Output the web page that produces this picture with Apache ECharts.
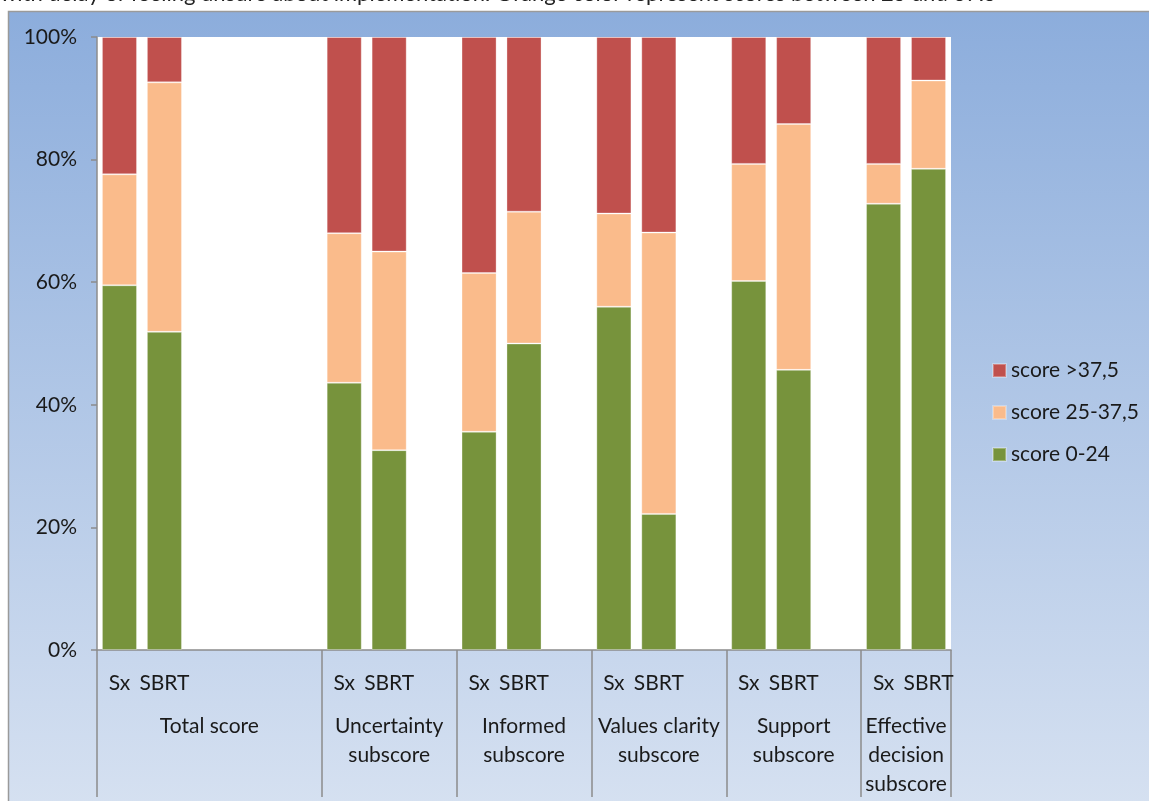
<!DOCTYPE html>
<html>
<head>
<meta charset="utf-8">
<script src="https://cdn.jsdelivr.net/npm/echarts@6/dist/echarts.min.js"></script>
<style>
  html, body { margin: 0; padding: 0; background: #ffffff; }
  #chart { width: 1149px; height: 801px; }
</style>
</head>
<body>
<div id="chart"></div>
<script>
// ---- data ----
var groups = ['Total score', 'Uncertainty\nsubscore', 'Informed\nsubscore', 'Values clarity\nsubscore', 'Support\nsubscore', 'Effective\ndecision\nsubscore'];
var groupSlots = [5, 3, 3, 3, 3, 2];
var subCategories = ['Sx', 'SBRT'];
var seriesNames = ['score 0-24', 'score 25-37,5', 'score >37,5'];
// values per group: [Sx, SBRT] pairs, in %
var score0to24   = [59.5, 51.9, 43.6, 32.6, 35.6, 50.0, 56.0, 22.2, 60.2, 45.7, 72.8, 78.5];
var score25to37  = [18.1, 40.7, 24.4, 32.4, 25.9, 21.5, 15.2, 45.9, 19.1, 40.1,  6.5, 14.4];
var scoreAbove37 = [22.4,  7.4, 32.0, 35.0, 38.5, 28.5, 28.8, 31.9, 20.7, 14.2, 20.7,  7.1];
var yTicks = [0, 20, 40, 60, 80, 100];
var titleText = 'with delay of feeling unsure about implementation. Orange color represent scores between 25 and 37.5';

// ---- build slot categories ----
var categories = [];
var groupStarts = [];
var slotToValue = [];
groups.forEach(function (g, gi) {
  groupStarts.push(categories.length);
  for (var s = 0; s < groupSlots[gi]; s++) {
    categories.push(gi + '|' + (s < subCategories.length ? subCategories[s] : '') + '|' + s);
    slotToValue.push(s < subCategories.length ? gi * subCategories.length + s : -1);
  }
});
function slotData(arr) {
  return slotToValue.map(function (k) { return k < 0 ? '-' : arr[k]; });
}
// group label positions
var groupLabelAt = {};
groups.forEach(function (g, gi) {
  var center = groupStarts[gi] + (groupSlots[gi] - 1) / 2;
  var idx = Math.floor(center);
  groupLabelAt[idx] = { text: g, half: center !== idx };
});

var FONT = 'Lato, "Noto Sans", sans-serif';
var FS = 21;
var TXT = '#1a1a1a';
var chart = echarts.init(document.getElementById('chart'), null, { renderer: 'canvas' });
var colors = ['#77933c', '#fabb8b', '#c0504d'];

var option = {
  animation: false,
  textStyle: { fontFamily: FONT },
  graphic: [
    { type: 'text', left: 0, top: -17, z: 0, style: { text: titleText, font: '22px ' + FONT, fill: '#222' } },
    { type: 'rect', shape: { x: 8.5, y: 11.5, width: 1160, height: 800 }, z: -10,
      style: { stroke: '#9a9a9a', lineWidth: 1.5,
        fill: new echarts.graphic.LinearGradient(0, 0, 0, 1, [
          { offset: 0, color: '#8caddc' },
          { offset: 1, color: '#d6e1f1' }
        ]) } }
  ],
  grid: { left: 97, right: 198, top: 37, bottom: 151, show: true, backgroundColor: '#ffffff', borderWidth: 0, containLabel: false },
  legend: {
    orient: 'vertical', left: 987, top: 355,
    data: [seriesNames[2], seriesNames[1], seriesNames[0]],
    icon: 'rect', itemWidth: 13, itemHeight: 13, itemGap: 21,
    textStyle: { fontFamily: FONT, fontSize: FS, color: TXT, lineHeight: 21 }
  },
  xAxis: [
    {
      type: 'category', data: categories, position: 'bottom',
      axisLine: { show: true, lineStyle: { color: '#8c8c8c', width: 1.5 } },
      axisTick: { show: false },
      axisLabel: {
        interval: 0, margin: 23, fontSize: FS, lineHeight: 21, color: TXT, fontFamily: FONT,
        formatter: function (v) { return v.split('|')[1]; }
      },
      splitLine: { show: false }
    },
    {
      type: 'category', data: categories, position: 'bottom', gridIndex: 0,
      axisLine: { show: false },
      axisTick: {
        show: true, length: 147, lineStyle: { color: '#8c8c8c', width: 1.5 },
        interval: function (i) { return groupStarts.indexOf(i) >= 0; }
      },
      axisLabel: {
        interval: 0, margin: 62, fontSize: FS, lineHeight: 29, color: TXT, fontFamily: FONT,
        formatter: function (v, i) {
          var g = groupLabelAt[i];
          if (!g) return '';
          if (g.half) {
            return g.text.split('\n').map(function (l) { return '{h|' + l + '}'; }).join('\n');
          }
          return g.text;
        },
        rich: { h: { fontSize: FS, lineHeight: 29, color: TXT, fontFamily: FONT, padding: [0, 0, 0, 45] } }
      },
      splitLine: { show: false }
    }
  ],
  yAxis: {
    type: 'value', min: 0, max: 100, interval: 20,
    axisLine: { show: true, lineStyle: { color: '#8c8c8c', width: 1.5 } },
    axisTick: { show: true, length: 6, lineStyle: { color: '#8c8c8c', width: 1.5 } },
    axisLabel: { margin: 20, fontSize: FS, color: TXT, fontFamily: FONT, formatter: '{value}%' },
    splitLine: { show: false }
  },
  series: [
    { name: seriesNames[0], type: 'bar', stack: 's', data: slotData(score0to24), barCategoryGap: '22%',
      itemStyle: { color: colors[0], borderColor: 'rgba(255,255,255,0.3)', borderWidth: 1 } },
    { name: seriesNames[1], type: 'bar', stack: 's', data: slotData(score25to37), barCategoryGap: '22%',
      itemStyle: { color: colors[1], borderColor: 'rgba(255,255,255,0.3)', borderWidth: 1 } },
    { name: seriesNames[2], type: 'bar', stack: 's', data: slotData(scoreAbove37), barCategoryGap: '22%',
      itemStyle: { color: colors[2], borderColor: 'rgba(255,255,255,0.3)', borderWidth: 1 } }
  ]
};
chart.setOption(option);
</script>
</body>
</html>
